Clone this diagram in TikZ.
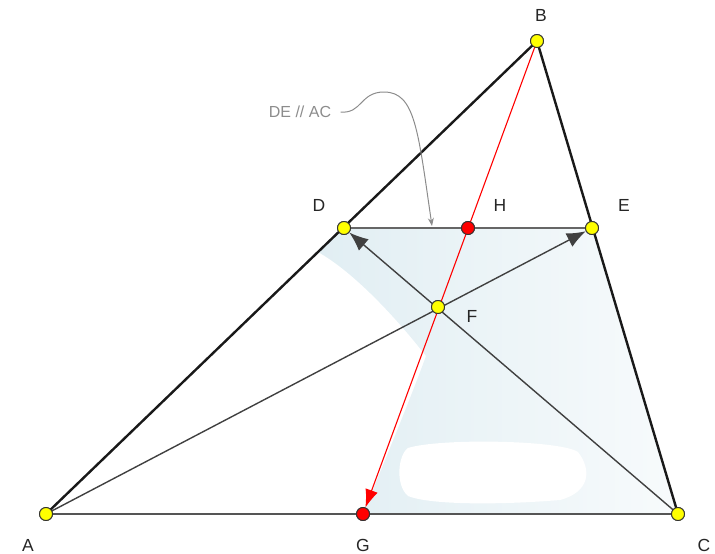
\documentclass[tikz,border=0pt]{standalone}
\usepackage{fontspec}
\setmainfont{Liberation Sans}
\usetikzlibrary{arrows.meta}
\definecolor{shadeblue}{HTML}{E1EEF3}
\definecolor{ptyellow}{HTML}{FFFF00}
\definecolor{annot}{HTML}{8C8C8C}
\definecolor{edgegray}{HTML}{555555}
\tikzset{
  pt/.style={circle,draw=black!80,line width=0.9pt,fill=ptyellow,minimum size=13pt,inner sep=0pt},
  redpt/.style={pt,fill=red},
  lbl/.style={font=\fontsize{17.5}{17.5}\selectfont,text=black!85},
  side/.style={line width=2.4pt,black!90},
  base/.style={line width=2.6pt,edgegray},
  cevian/.style={line width=1.4pt,black!75},
  tipblk/.style={-{Latex[length=19pt,width=15pt]}},
}
\begin{document}
\begin{tikzpicture}[x=1pt,y=-1pt]
\useasboundingbox (0,0) rectangle (715,554);
% shaded region
\shade[left color=shadeblue,right color=shadeblue!25]
  (344,228) -- (592,228) -- (678,514) -- (363,514)
  .. controls (385,460) and (410,400) .. (426,356)
  .. controls (390,310) and (350,270) .. (318,252) -- cycle;
\fill[white] (408,448) .. controls (440,438) and (560,440) .. (578,452)
  .. controls (592,470) and (590,492) .. (560,500)
  .. controls (500,505) and (430,505) .. (408,496)
  .. controls (395,485) and (398,455) .. (408,448) -- cycle;
% points
\node[pt] (A) at (46,514) {};
\node[pt] (B) at (537,41) {};
\node[pt] (C) at (678,514) {};
\node[pt] (D) at (344,228) {};
\node[pt] (E) at (592,228) {};
\node[pt] (F) at (438,307) {};
\node[redpt] (H) at (468,228) {};
\node[redpt] (G) at (363,514) {};
% lines
\draw[base] (A.center) -- (C.center);
\draw[line width=2.4pt,black!60] (D.center) -- (E.center);
\draw[side] (A.center) -- (B.center) -- (C.center);
\draw[cevian,tipblk] (A.center) -- (E);
\draw[cevian,tipblk] (C.center) -- (D);
\draw[red,line width=1.1pt,-{Latex[length=18pt,width=13pt]}] (B.center) -- (G);
% redraw points on top
\node[pt] at (A) {};
\node[pt] at (B) {};
\node[pt] at (C) {};
\node[pt] at (D) {};
\node[pt] at (E) {};
\node[pt] at (F) {};
\node[redpt] at (H) {};
\node[redpt] at (G) {};
% labels
\node[lbl] (lA) at (28,545) {A};
\node[lbl] (lB) at (541,15) {B};
\node[lbl] (lC) at (704,545) {C};
\node[lbl] (lD) at (319,205) {D};
\node[lbl] (lE) at (624,205) {E};
\node[lbl] (lF) at (472,316) {F};
\node[lbl] (lH) at (500,205) {H};
\node[lbl] (lG) at (363,545) {G};
% annotation
\node[font=\fontsize{16}{16}\selectfont,text=annot] (note) at (300,112) {DE // AC};
\coordinate (tgt) at (432,226);
\draw[annot,line width=1pt,-{Stealth[length=8pt,width=6pt]}]
  (note.east) ++(6,0) .. controls (362,114) and (360,92) .. (384,92)
  .. controls (415,92) and (418,130) .. (tgt);
\end{tikzpicture}
\end{document}
